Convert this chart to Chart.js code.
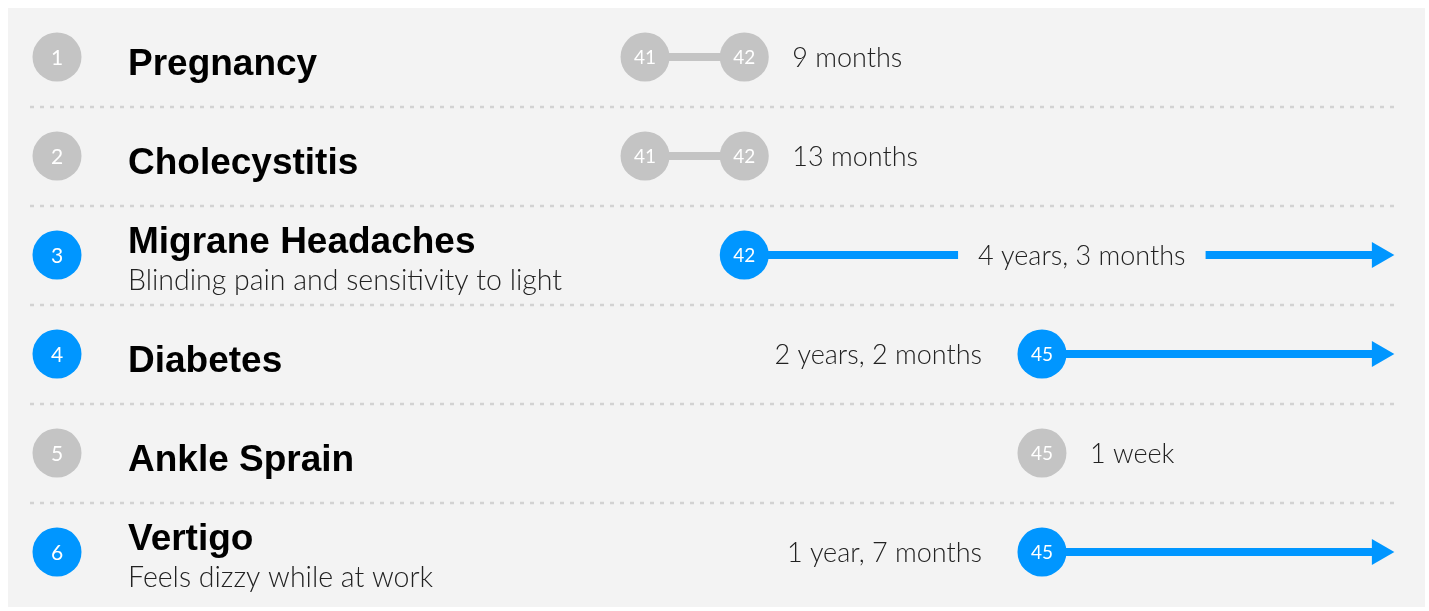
<!DOCTYPE html>
<html>
<head>
<meta charset="utf-8">
<script src="https://cdn.jsdelivr.net/npm/chart.js@4"></script>
<style>
  html, body { margin: 0; padding: 0; background: #fff; }
  #wrap { width: 1429px; height: 611px; }
</style>
</head>
<body>
<div id="wrap"><canvas id="chart-timeline" width="1429" height="611"></canvas></div>
<script>
// one entry per row, top to bottom
const rows = [1, 2, 3, 4, 5, 6];
const titles = ['Pregnancy', 'Cholecystitis', 'Migrane Headaches', 'Diabetes', 'Ankle Sprain', 'Vertigo'];
const subtitles = ['', '', 'Blinding pain and sensitivity to light', '', '', 'Feels dizzy while at work'];
const startAges = [41, 41, 42, 45, 45, 45];
const endAges = [42, 42, null, null, null, null];
const ongoing = [false, false, true, true, false, true];
const durations = ['9 months', '13 months', '4 years, 3 months', '2 years, 2 months', '1 week', '1 year, 7 months'];
const durationPos = ['after', 'after', 'middle', 'before', 'after', 'before'];
const nowAge = 48.4; // where the ongoing arrows stop

const BLUE = '#0096FF';
const GREY = '#C4C4C4';
const PANEL = '#F3F3F3';
const TEXT = '#222';
const LIGHT = '300 27px Lato, "Open Sans", sans-serif';

const rowColor = i => ongoing[i] ? BLUE : GREY;

// line segments (one dataset per row that has a span)
const lineSets = [];
rows.forEach((row, i) => {
    const end = ongoing[i] ? nowAge : endAges[i];
    if (end == null) return;
    lineSets.push({
        type: 'line',
        data: [{ x: startAges[i], y: row }, { x: end, y: row }],
        borderColor: rowColor(i),
        borderWidth: 8,
        borderCapStyle: 'butt',
        pointRadius: 0,
        showLine: true,
        order: 3
    });
});

// age circles
const circlePts = [];
const circleCols = [];
const circleLabels = [];
rows.forEach((row, i) => {
    circlePts.push({ x: startAges[i], y: row });
    circleCols.push(rowColor(i));
    circleLabels.push(String(startAges[i]));
    if (endAges[i] != null) {
        circlePts.push({ x: endAges[i], y: row });
        circleCols.push(rowColor(i));
        circleLabels.push(String(endAges[i]));
    }
});

// arrow heads for ongoing conditions
const arrowPts = rows.filter((r, i) => ongoing[i]).map(r => ({ x: nowAge, y: r }));

const timelineText = {
    id: 'timelineText',
    beforeDraw(chart) {
        const ctx = chart.ctx;
        ctx.save();
        ctx.fillStyle = '#fff';
        ctx.fillRect(0, 0, chart.width, chart.height);
        ctx.fillStyle = PANEL;
        ctx.fillRect(8, 8, chart.width - 12, chart.height - 12);
        ctx.restore();
    },
    beforeDatasetsDraw(chart) {
        const ctx = chart.ctx;
        const ys = chart.scales.y;
        ctx.save();
        ctx.strokeStyle = '#D2D2D2';
        ctx.lineWidth = 2.5;
        ctx.setLineDash([4, 6]);
        for (let i = 1; i < rows.length; i++) {
            const py = Math.round(ys.getPixelForValue(i + 0.5));
            ctx.beginPath();
            ctx.moveTo(30, py);
            ctx.lineTo(1397, py);
            ctx.stroke();
        }
        ctx.restore();
    },
    afterDatasetsDraw(chart) {
        const ctx = chart.ctx;
        const xs = chart.scales.x;
        const ys = chart.scales.y;
        ctx.save();

        // numbers inside the age circles
        ctx.fillStyle = '#fff';
        ctx.font = '400 19px Lato, sans-serif';
        ctx.textAlign = 'center';
        ctx.textBaseline = 'middle';
        circlePts.forEach((p, k) => {
            ctx.fillText(circleLabels[k], xs.getPixelForValue(p.x), ys.getPixelForValue(p.y) + 1);
        });

        rows.forEach((row, i) => {
            const py = ys.getPixelForValue(row);

            // row badge
            ctx.fillStyle = rowColor(i);
            ctx.beginPath();
            ctx.arc(57, py, 24.5, 0, Math.PI * 2);
            ctx.fill();
            ctx.fillStyle = '#fff';
            ctx.font = '400 21px Lato, sans-serif';
            ctx.textAlign = 'center';
            ctx.textBaseline = 'middle';
            ctx.fillText(String(row), 57, py + 1);

            // title + subtitle
            ctx.textAlign = 'left';
            ctx.textBaseline = 'alphabetic';
            ctx.fillStyle = '#000';
            ctx.font = 'bold 37px "Liberation Sans", Arial, sans-serif';
            if (subtitles[i]) {
                ctx.fillText(titles[i], 128, py - 2);
                ctx.fillStyle = TEXT;
                ctx.font = '300 28.5px Lato, sans-serif';
                ctx.fillText(subtitles[i], 128, py + 35);
            } else {
                ctx.fillText(titles[i], 128, py + 18);
            }

            // duration label
            ctx.font = LIGHT;
            ctx.fillStyle = TEXT;
            const sx = xs.getPixelForValue(startAges[i]);
            const lastAge = endAges[i] != null ? endAges[i] : startAges[i];
            if (durationPos[i] === 'after') {
                ctx.textAlign = 'left';
                ctx.fillText(durations[i], xs.getPixelForValue(lastAge) + 48, py + 10);
            } else if (durationPos[i] === 'before') {
                ctx.textAlign = 'right';
                ctx.fillText(durations[i], sx - 60, py + 10);
            } else {
                const ex = xs.getPixelForValue(nowAge) + 15;
                const cx = (sx + 25 + ex) / 2;
                const w = ctx.measureText(durations[i]).width;
                ctx.fillStyle = PANEL;
                ctx.fillRect(cx - w / 2 - 20, py - 8, w + 40, 16);
                ctx.fillStyle = TEXT;
                ctx.textAlign = 'center';
                ctx.fillText(durations[i], cx, py + 10);
            }
        });
        ctx.restore();
    }
};

new Chart(document.getElementById('chart-timeline'), {
    type: 'scatter',
    data: {
        datasets: [
            {
                data: circlePts,
                backgroundColor: circleCols,
                borderWidth: 0,
                pointRadius: 24.5,
                pointHoverRadius: 24.5,
                order: 1
            },
            {
                data: arrowPts,
                pointStyle: 'triangle',
                rotation: 90,
                backgroundColor: BLUE,
                borderWidth: 0,
                pointRadius: 15,
                order: 2
            },
            ...lineSets
        ]
    },
    options: {
        responsive: false,
        animation: false,
        events: [],
        layout: { autoPadding: false, padding: { top: 7.5, bottom: 9.5, left: 0, right: 0 } },
        scales: {
            x: { type: 'linear', display: false, min: 34.5, max: 48.9 },
            y: { type: 'linear', display: false, reverse: true, min: 0.5, max: 6.5 }
        },
        plugins: {
            legend: { display: false },
            tooltip: { enabled: false }
        }
    },
    plugins: [timelineText]
});
</script>
</body>
</html>
